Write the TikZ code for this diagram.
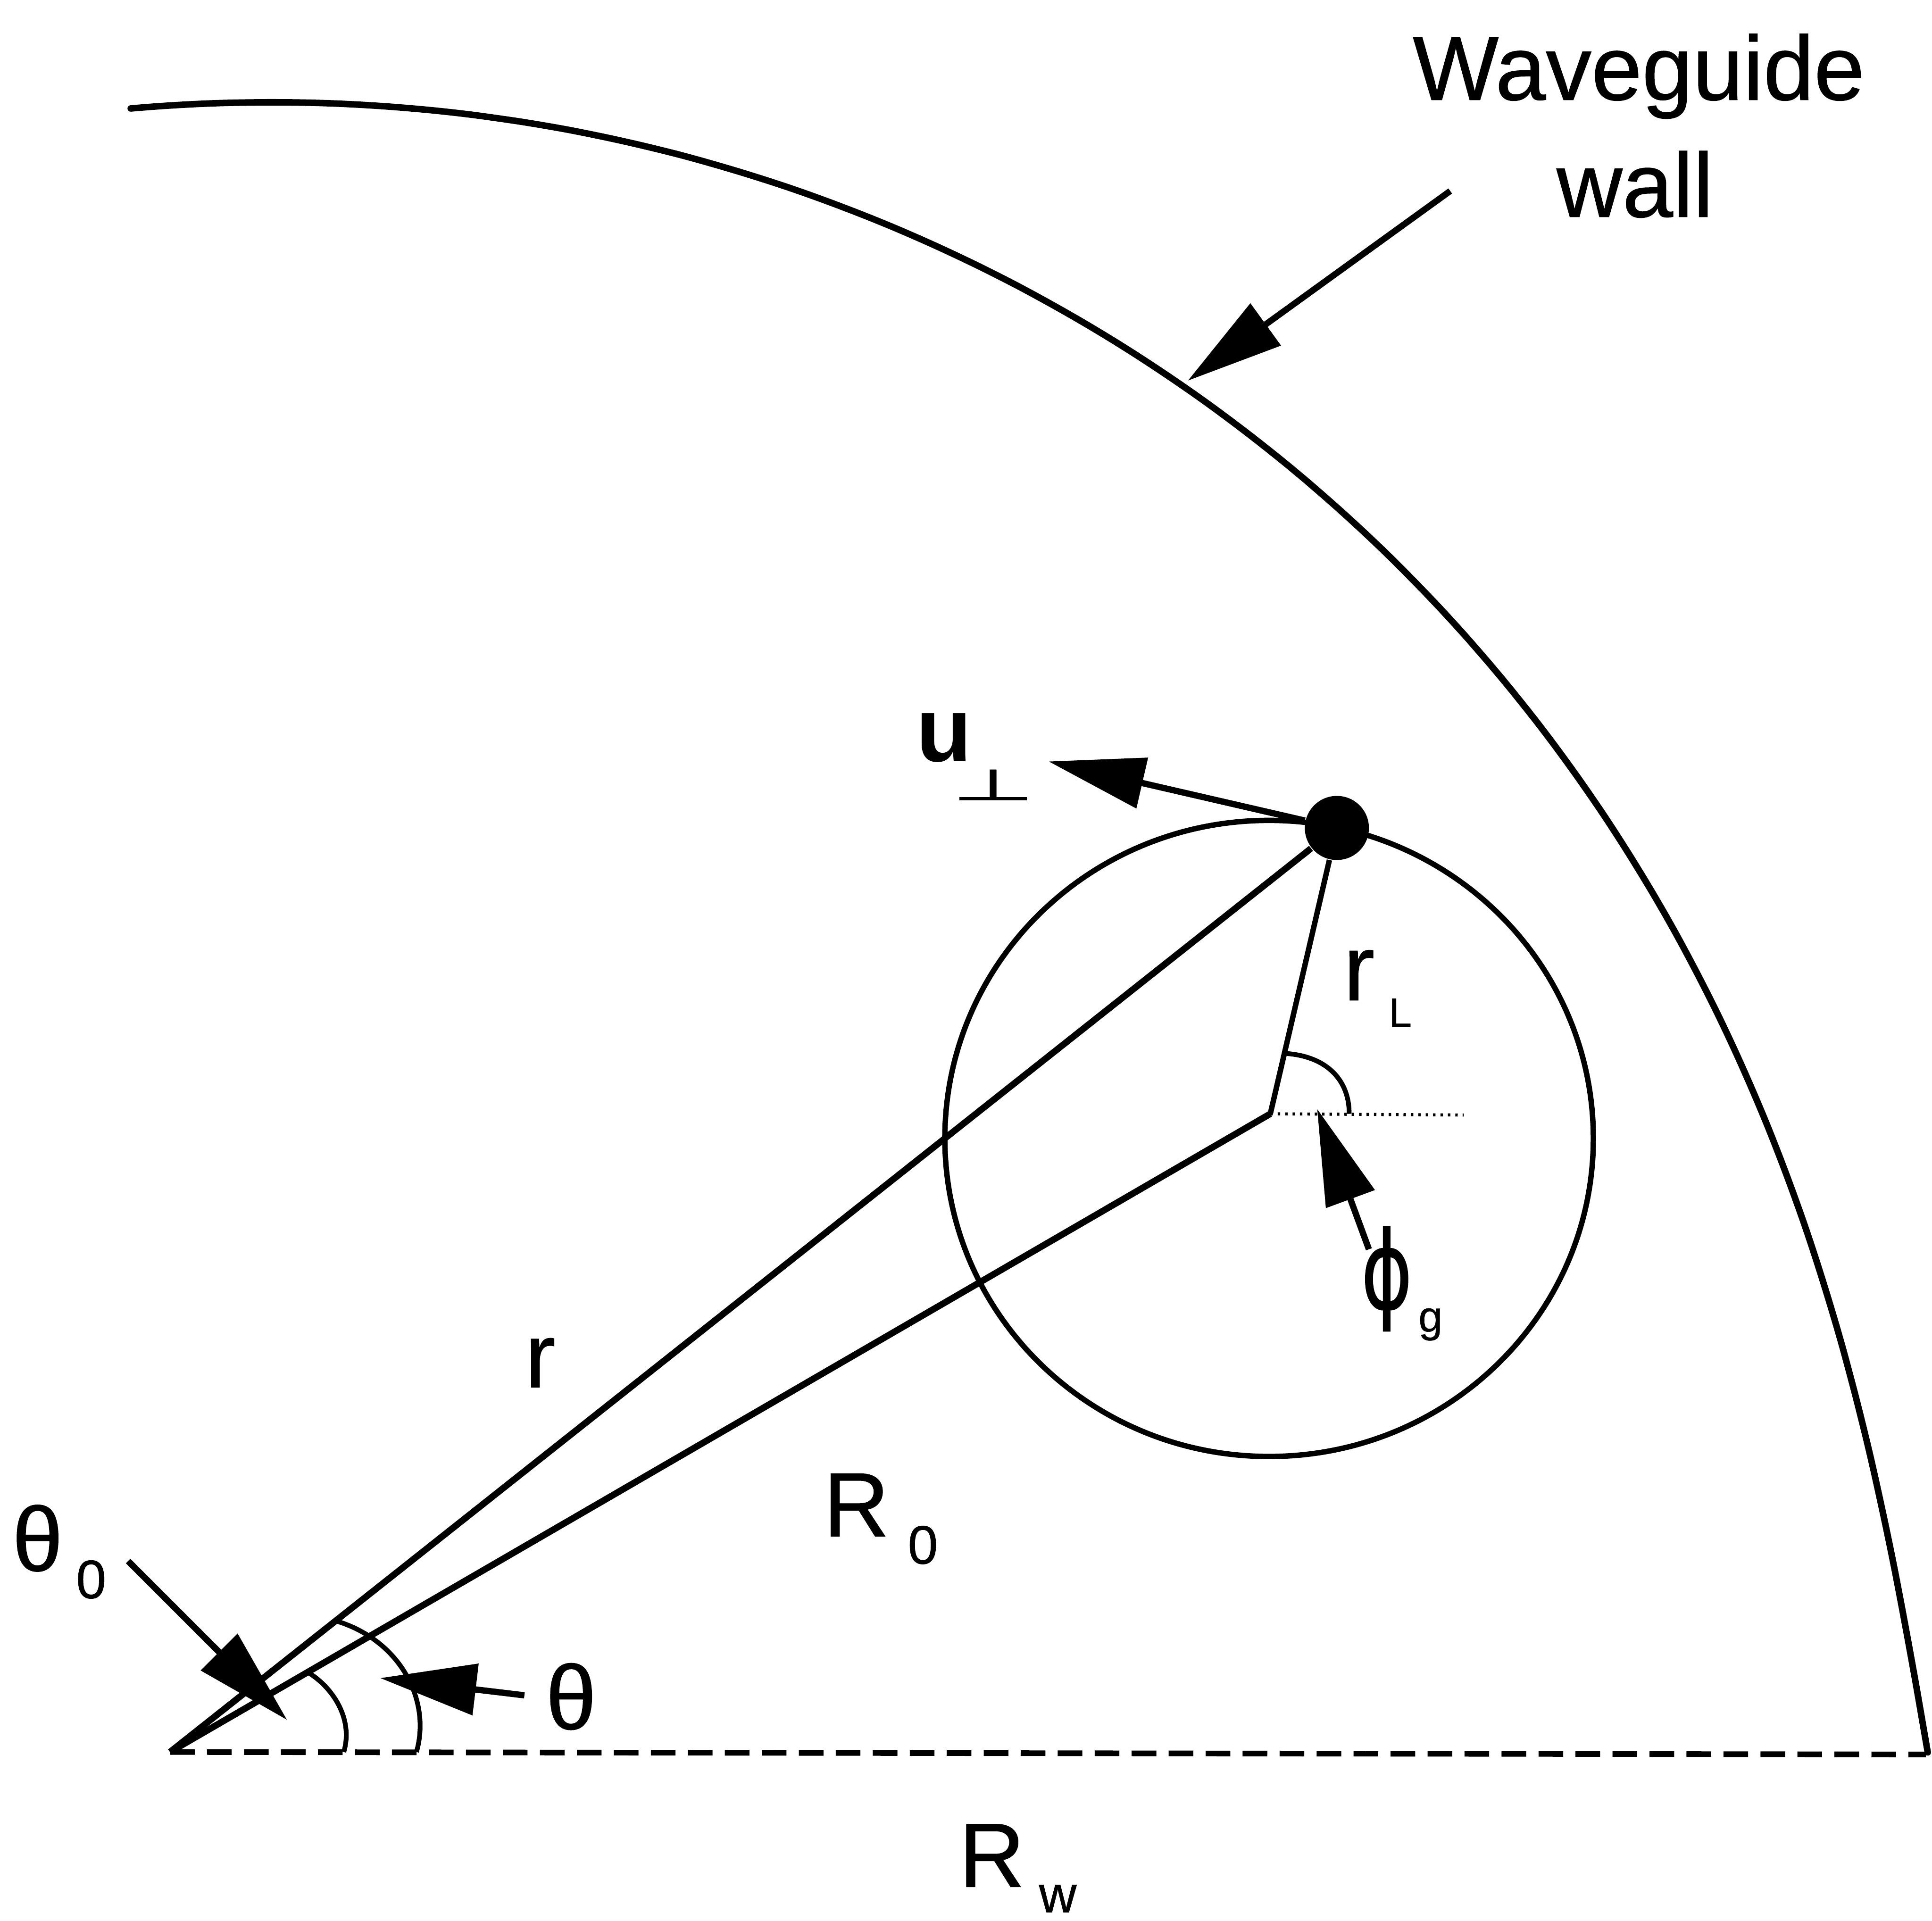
\documentclass[tikz,border=0pt]{standalone}
\usepackage{fontspec}
\setmainfont{Liberation Sans}
\newfontfamily\lblfont[FakeBold=0.7]{Liberation Sans}
\newfontfamily\djv[FakeBold=0.7]{DejaVu Sans}
\usetikzlibrary{arrows.meta}
\begin{document}
\begin{tikzpicture}[x=0.01cm,y=-0.01cm,
  mainline/.style={line width=1.5pt},
  midline/.style={line width=1.25pt},
  thinline/.style={line width=1.1pt},
  arr/.style={line width=1.45pt,-{Triangle[length=7.8mm,width=4.1mm]}},
  lbl/.style={inner sep=0pt,font=\lblfont\fontsize{21}{25}\selectfont},
  sublbl/.style={inner sep=0pt,font=\lblfont\fontsize{12.5}{15}\selectfont}]
\useasboundingbox (0,0) rectangle (1568,1559);

% key points
\coordinate (O) at (138,1422);
\coordinate (G) at (1031,904);
\coordinate (B) at (1563,1424);
\coordinate (D) at (1188,905);
\node[circle,fill=black,inner sep=0pt,minimum size=0.52cm] (P) at (1085,672) {};

% waveguide wall
\draw[mainline,line cap=round] plot[domain=-0.4:95.3,samples=120,smooth,variable=\t]
  ({229+(1334-4*\t*exp(-\t/20))*cos(\t)},{1413-(1334-4*\t*exp(-\t/20))*sin(\t)});
% baseline
\draw[line width=1.3pt,dash pattern=on 0.2cm off 0.1cm] (O) -- (B);
% gyration circle
\draw[midline] (1030,924) circle[x radius=2.63cm,y radius=2.58cm];
% radii
\draw[mainline] (O) -- (P);
\draw[mainline] (O) -- (G);
\draw[midline] (G) -- (P);
\draw[line width=0.7pt,dash pattern=on 0.02cm off 0.04cm] (G) -- (D);

% angle arcs
\draw[thinline] (338,1422) .. controls (350,1380) and (325,1332) .. (274,1316);
\draw[thinline] (279,1422) .. controls (287,1395) and (270,1370) .. (251,1358);
\draw[thinline] (1043,855) .. controls (1075,857) and (1095,875) .. (1095,904);

% arrows
\coordinate (wt) at (1177,155);
\coordinate (wh) at (964,309);
\draw[arr] (wt) -- (wh);
\coordinate (ut) at (851,618);
\draw[arr] (P) -- (ut);
\coordinate (t0t) at (104,1267);
\coordinate (t0h) at (233,1396);
\draw[arr] (t0t) -- (t0h);
\coordinate (tt) at (425.6,1376);
\coordinate (th) at (308.5,1362);
\draw[arr] (tt) -- (th);
\coordinate (pt) at (1111,1014);
\coordinate (ph) at (1069,900);
\draw[arr] (pt) -- (ph);

% labels
\node[lbl,anchor=base] (wg) at (1330,81) {Waveguide};
\node[lbl,anchor=base] (wall) at (1327,176) {wall};
\node[lbl] (rlab) at (438.5,1106) {r};
\node[lbl] (R0) at (695,1221.5) {R};
\node[sublbl] (R0s) at (749,1254) {0};
\node[lbl] (th0) at (30.5,1248.5) {θ};
\node[sublbl] (th0s) at (74,1282) {0};
\node[lbl] (thl) at (463.5,1377) {θ};
\node[lbl] (Rw) at (805,1506) {R};
\node[inner sep=0pt,font=\lblfont\fontsize{12}{14}\selectfont] (Rws) at (858.5,1541) {w};
\node[inner sep=0pt,font=\lblfont\fontsize{21.5}{25}\selectfont] (rL) at (1103,791.5) {r};
\node[inner sep=0pt,font=\lblfont\fontsize{9.5}{11}\selectfont] (rLs) at (1136.5,822) {L};
\node[inner sep=0pt,font=\djv\fontsize{25}{28}\selectfont] (phi) at (1125.5,1038) {\scalebox{0.72}[1]{ϕ}};
\node[inner sep=0pt,font=\lblfont\fontsize{10}{12}\selectfont] (phis) at (1161,1075) {g};
\node[inner sep=0pt,font=\bfseries\fontsize{21}{25}\selectfont] (u) at (766,599) {u};
\node[inner sep=0pt,font=\djv\fontsize{10}{12}\selectfont] (perp) at (806,637) {\scalebox{2.2}[1]{⊥}};
\end{tikzpicture}
\end{document}
